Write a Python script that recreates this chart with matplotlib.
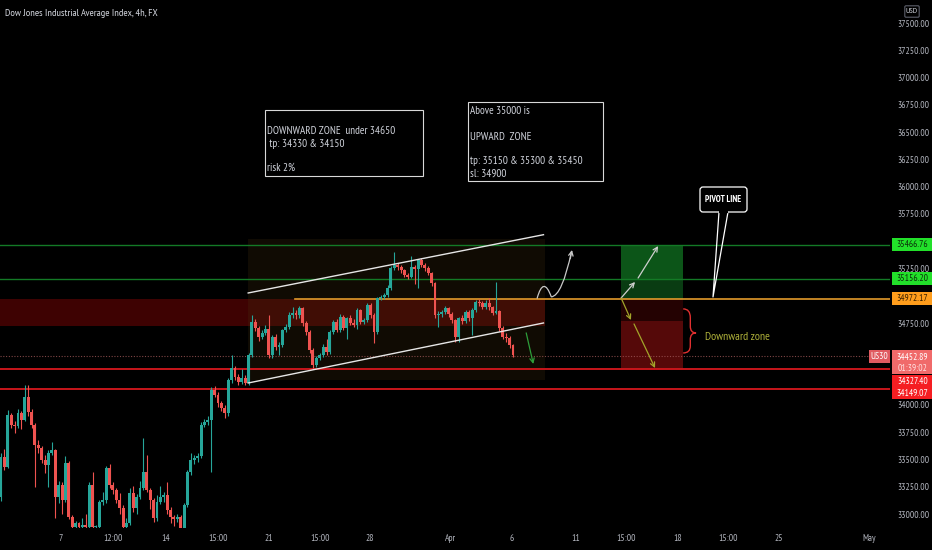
import matplotlib
matplotlib.use('Agg')
import matplotlib.pyplot as plt
import matplotlib.patches as patches
import matplotlib.transforms as mtransforms
from matplotlib.path import Path
import numpy as np

plt.rcParams['font.family'] = ['PT Sans Narrow', 'Roboto Condensed', 'DejaVu Sans']

# ---- data (US30, 4h candles) ----
first_open = 33156
closes = [33523, 33431, 33908, 33816, 33807, 33926, 33862, 34073, 33935, 33816,
          33633, 33605, 33495, 33449, 33560, 33587, 33156, 33266, 33129, 33468,
          32973, 32881, 32918, 32885, 32900, 32881, 33266, 32881, 32885, 33111,
          33129, 33422, 33266, 33220, 33129, 33056, 32881, 32918, 33193, 33056,
          33156, 33239, 33385, 33220, 33129, 32964, 33111, 33156, 33175, 33037,
          32973, 32950, 32970, 32872, 33083, 33385, 33495, 33514, 33532, 33816,
          33844, 33862, 34137, 34091, 34018, 33972, 33926, 34229, 34339, 34256,
          34210, 34247, 34201, 34458, 34760, 34705, 34623, 34659, 34696, 34458,
          34623, 34531, 34549, 34687, 34714, 34824, 34843, 34824, 34888, 34751,
          34668, 34503, 34366, 34430, 34458, 34531, 34485, 34668, 34760, 34687,
          34806, 34705, 34797, 34751, 34733, 34870, 34760, 34778, 34916, 34824,
          34668, 34980, 34989, 35008, 35071, 35255, 35282, 35264, 35237, 35191,
          35172, 35264, 35246, 35328, 35282, 35255, 35209, 35117, 34824, 34833,
          34852, 34888, 34833, 34778, 34623, 34797, 34769, 34852, 34797, 34870,
          34943, 34934, 34897, 34934, 34897, 34843, 34861, 34705, 34623, 34613,
          34549, 34453]
highs = [33560, 33600, 33954, 33930, 33850, 33960, 33940, 34183, 34183, 33960,
         33830, 33680, 33620, 33540, 33590, 33660, 33600, 33300, 33290, 33530,
         33490, 32990, 32940, 32930, 32960, 33000, 33290, 33385, 32900, 33130,
         33200, 33440, 33460, 33290, 33240, 33190, 33080, 32960, 33240, 33260,
         33180, 33300, 33697, 33541, 33240, 33150, 33175, 33260, 33200, 33290,
         33060, 32990, 33000, 32990, 33100, 33400, 33560, 33540, 33560, 33840,
         33870, 33900, 34160, 34170, 34120, 34040, 34000, 34250, 34460, 34360,
         34280, 34330, 34270, 34480, 34824, 34790, 34720, 34690, 34730, 34824,
         34640, 34650, 34580, 34700, 34740, 34850, 34900, 34870, 34910, 34900,
         34770, 34690, 34520, 34450, 34480, 34560, 34600, 34690, 34780, 34790,
         34830, 34820, 34810, 34820, 34790, 34890, 34880, 34800, 34930, 34930,
         34840, 34990, 35010, 35030, 35100, 35270, 35402, 35300, 35280, 35250,
         35210, 35365, 35280, 35340, 35350, 35300, 35270, 35220, 35130, 34860,
         34870, 34910, 34900, 34850, 34790, 34810, 34820, 34870, 34870, 34890,
         34960, 34970, 34950, 34960, 34980, 34910, 35127, 34870, 34720, 34660,
         34630, 34560]
lows = [33120, 33400, 33420, 33790, 33740, 33790, 33780, 33850, 33900, 33790,
        33248, 33560, 33470, 33380, 33248, 33540, 32964, 33100, 33000, 33110,
        32950, 32870, 32875, 32875, 32875, 32875, 32875, 32875, 32875, 32875,
        33080, 33100, 33240, 33180, 33100, 33000, 32875, 32875, 32900, 33020,
        33000, 33140, 33220, 33200, 33050, 32930, 32940, 33090, 33110, 33000,
        32920, 32890, 32930, 32860, 32860, 33060, 33360, 33460, 33480, 33510,
        33800, 33820, 33385, 34070, 33980, 33940, 33880, 33900, 34200, 34230,
        34180, 34190, 34180, 34180, 34440, 34680, 34590, 34600, 34640, 34430,
        34430, 34500, 34460, 34530, 34670, 34700, 34800, 34790, 34800, 34720,
        34640, 34480, 34340, 34350, 34410, 34440, 34460, 34470, 34650, 34670,
        34670, 34690, 34600, 34730, 34710, 34700, 34740, 34740, 34760, 34800,
        34567, 34650, 34960, 34970, 34990, 35050, 35240, 35240, 35210, 35170,
        35150, 35160, 35110, 35071, 35260, 35230, 35190, 35090, 34800, 34714,
        34810, 34830, 34810, 34750, 34577, 34577, 34740, 34750, 34770, 34641,
        34850, 34910, 34880, 34880, 34870, 34820, 34830, 34680, 34600, 34580,
        34520, 34440]

price_ticks = [37500, 37250, 37000, 36750, 36500, 36250, 36000, 35750,
               35250, 34750, 34000, 33750, 33500, 33250, 33000]
time_tick_pos = [17.7, 33.0, 48.7, 64.0, 79.1, 94.1, 108.8, 132.7,
                 150.7, 169.6, 184.4, 199.7, 214.5, 229.5, 256.0]
time_tick_labels = ['7', '12:00', '14', '15:00', '21', '15:00', '28', 'Apr',
                    '6', '11', '15:00', '18', '15:00', '25', 'May']

green_levels = [35466.76, 35156.20]
pivot_level = 34972.17
red_levels = [34327.40, 34149.07]
last_price = 34452.89
sell_zone = (34725, 34972)

# drawings (bar index, price)
channel_upper = [(72.9, 35026), (160.0, 35560)]
channel_lower = [(72.9, 34201), (160.0, 34751)]

BG = '#000000'
TEAL = '#26a69a'
RED = '#ef5350'
TXT = '#b2b5be'
FS = 6.8

fig = plt.figure(figsize=(9.32, 5.5), dpi=100, facecolor=BG)
ax = fig.add_axes([0, 22 / 550, 890 / 932, 528 / 550])
ax.set_facecolor(BG)
ax.set_xlim(-0.3, 262.2)
ax.set_ylim(32872, 37711)
for s in ax.spines.values():
    s.set_visible(False)

# zones
ax.add_patch(patches.Rectangle((-0.3, sell_zone[0]), 160.8, sell_zone[1] - sell_zone[0],
                               fc='#3e0202', ec='none', zorder=1))
ax.add_patch(patches.Rectangle((72.9, 34230), 87.6, 35520 - 34230,
                               fc='#4a3510', ec='none', alpha=0.22, zorder=1.1))
# right-hand boxes
ax.add_patch(patches.Rectangle((182.9, green_levels[1]), 18.3, green_levels[0] - green_levels[1],
                               fc='#0c5518', ec='none', zorder=1))
ax.add_patch(patches.Rectangle((182.9, pivot_level), 18.3, green_levels[1] - pivot_level,
                               fc='#093c12', ec='none', zorder=1))
ax.add_patch(patches.Rectangle((182.9, 34770), 18.3, pivot_level - 34770,
                               fc='#240202', ec='none', zorder=1))
ax.add_patch(patches.Rectangle((182.9, red_levels[0]), 18.3, 34770 - red_levels[0],
                               fc='#550909', ec='none', zorder=1))

# horizontal levels
for lv in green_levels:
    ax.axhline(lv, color='#137a26', lw=1, zorder=2)
ax.plot([86.7, 262.2], [pivot_level, pivot_level], color='#e39a2b', lw=1.2, zorder=2)
for lv in red_levels:
    ax.axhline(lv, color='#c8161b', lw=1.4, zorder=2)
ax.axhline(last_price, color='#a05858', lw=0.8, ls=(0, (1, 1.5)), alpha=0.8, zorder=2)

# candles
closes_a = np.array(closes, dtype=float)
opens_a = np.r_[first_open, closes_a[:-1]]
x = np.arange(len(closes_a))
cols = np.where(closes_a >= opens_a, TEAL, RED)
ax.vlines(x, lows, highs, colors=cols, lw=0.8, zorder=3)
body = closes_a - opens_a
body = np.where(np.abs(body) < 8, np.where(body >= 0, 8, -8), body)
ax.bar(x, body, bottom=opens_a, width=0.86, color=cols, linewidth=0, zorder=4)

# channel
for ln in (channel_upper, channel_lower):
    ax.plot([p[0] for p in ln], [p[1] for p in ln], color='#e6e6e6', lw=1, zorder=5)

# arrows
def arrow(p0, p1, color, lw=0.9):
    ax.annotate('', xy=p1, xytext=p0,
                arrowprops=dict(arrowstyle='->', color=color, lw=lw,
                                mutation_scale=8, shrinkA=0, shrinkB=0), zorder=6)

wave = Path([(158.1, 34975), (160.0, 35190), (162.3, 34990),
             (165.5, 35000), (168.3, 35410)],
            [Path.MOVETO, Path.CURVE3, Path.CURVE3, Path.CURVE3, Path.CURVE3])
ax.add_patch(patches.PathPatch(wave, fc='none', ec='#c8c8c8', lw=0.9, zorder=6))
arrow((167.9, 35340), (168.4, 35420), '#c8c8c8')
arrow((182.9, 34980), (187.0, 35127), '#d0d0d0')
arrow((187.9, 35163), (193.8, 35456), '#d0d0d0')
arrow((182.9, 34980), (185.8, 34778), '#a3a52a')
arrow((186.7, 34742), (192.9, 34338), '#a3a52a')
arrow((154.9, 34660), (157.0, 34375), '#2e9e3a')

# brace for the downward zone
brace = Path([(201.2, 34880), (203.3, 34880), (203.3, 34800),
              (203.3, 34720),
              (203.3, 34660), (205.0, 34660),
              (203.3, 34660), (203.3, 34600),
              (203.3, 34540),
              (203.3, 34476), (201.2, 34476)],
             [Path.MOVETO, Path.CURVE3, Path.CURVE3, Path.LINETO,
              Path.CURVE3, Path.CURVE3, Path.CURVE3, Path.CURVE3,
              Path.LINETO, Path.CURVE3, Path.CURVE3])
ax.add_patch(patches.PathPatch(brace, fc='none', ec='#e03030', lw=1, zorder=6))
ax.text(207.7, 34622, 'Downward zone', color='#b0b23a', fontsize=8.5, va='center', ha='left', zorder=6)

# axes ticks
ax.yaxis.tick_right()
ax.set_yticks(price_ticks)
ax.set_yticklabels([f'{v:.2f}' for v in price_ticks])
ax.set_xticks(time_tick_pos)
ax.set_xticklabels(time_tick_labels)
ax.tick_params(axis='both', length=0, colors=TXT, labelsize=FS)
ax.tick_params(axis='y', pad=5)
ax.tick_params(axis='x', pad=4)

# price tags on the right scale
trans = mtransforms.blended_transform_factory(ax.transAxes, ax.transData)

def tag(y, text, fc, tc, h=119):
    ax.add_patch(patches.Rectangle((1.002, y - h / 2), 0.046, h, transform=trans, fc=fc,
                                   ec='none', clip_on=False, zorder=8))
    ax.text(1.025, y, text, transform=trans, ha='center', va='center', color=tc,
            fontsize=FS, clip_on=False, zorder=9)

tag(green_levels[0], '35466.76', '#22e02a', '#0a2f0a')
tag(green_levels[1], '35156.20', '#22e02a', '#0a2f0a')
tag(pivot_level, '34972.17', '#ff9d1c', '#3a2000')
# current price block and support stack
ax.add_patch(patches.Rectangle((1.002, 34283), 0.046, 34503 - 34283, transform=trans,
                               fc='#f06a6a', ec='none', clip_on=False, zorder=8))
ax.add_patch(patches.Rectangle((1.002, 34054), 0.046, 34274 - 34054, transform=trans,
                               fc='#f51e22', ec='none', clip_on=False, zorder=8))
for yv, txt, c in [(34439, '34452.89', 'white'), (34338, '01:39:02', '#ffe0e0'),
                   (34219, '34327.40', 'white'), (34109, '34149.07', 'white')]:
    ax.text(1.025, yv, txt, transform=trans, ha='center', va='center', color=c,
            fontsize=FS, clip_on=False, zorder=9)
ax.add_patch(patches.Rectangle((0.9764, 34384), 0.0236, 34503 - 34384, transform=trans,
                               fc='#e05a60', ec='none', clip_on=False, zorder=8))
ax.text(0.9882, 34444, 'US30', transform=trans, ha='center', va='center', color='white',
        fontsize=FS, clip_on=False, zorder=9)

# ---- overlay in pixel units for notes ----
ov = fig.add_axes([0, 0, 1, 1], zorder=10)
ov.set_xlim(0, 932)
ov.set_ylim(550, 0)
ov.axis('off')
ov.patch.set_alpha(0)

ov.text(5, 13, 'Dow Jones Industrial Average Index, 4h, FX', color='#d1d4dc',
        fontsize=7.5, va='center', ha='left')
ov.add_patch(patches.FancyBboxPatch((906, 7), 12, 9, boxstyle='round,pad=1.2',
                                    fc=BG, ec='#5d606b', lw=0.8))
ov.text(912, 11.5, 'USD', color='#d1d4dc', fontsize=6, ha='center', va='center')

note1 = ['DOWNWARD ZONE  under 34650', ' tp: 34330 & 34150', 'risk 2%']
note1_y = [131, 144, 168]
ov.add_patch(patches.Rectangle((265, 110), 158, 66, fc=BG, ec='#d8d8d8', lw=0.8))
for t, yy in zip(note1, note1_y):
    ov.text(267, yy, t, color='#d1d4dc', fontsize=8, va='center', ha='left')

note2 = ['Above 35000 is', 'UPWARD  ZONE', 'tp: 35150 & 35300 & 35450', 'sl: 34900']
note2_y = [111, 137, 161, 174]
ov.add_patch(patches.Rectangle((468, 102), 135, 79, fc=BG, ec='#d8d8d8', lw=0.8))
for t, yy in zip(note2, note2_y):
    ov.text(470, yy, t, color='#d1d4dc', fontsize=8, va='center', ha='left')

# pivot line callout
ov.plot([719, 713, 728], [212, 297, 212], color='white', lw=0.9)
ov.add_patch(patches.FancyBboxPatch((703, 190), 41, 19, boxstyle='round,pad=3',
                                    fc=BG, ec='white', lw=0.9))
ov.plot([720, 727], [212, 212], color=BG, lw=1.6)
ov.text(723.5, 199.5, 'PIVOT LINE', color='white', fontsize=6.6, fontweight='bold',
        ha='center', va='center')

fig.savefig('out.png', dpi=100, facecolor=BG)
